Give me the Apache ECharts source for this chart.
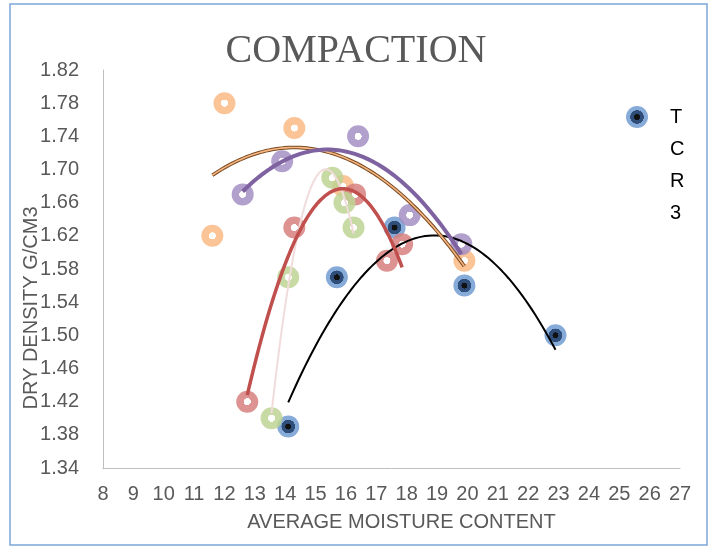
<!DOCTYPE html>
<html><head><meta charset="utf-8">
<script src="https://cdn.jsdelivr.net/npm/echarts@6/dist/echarts.min.js"></script>
<style>html,body{margin:0;padding:0;background:#fff}#c{width:712px;height:546px}</style>
</head><body><div id="c"></div><script>
// ---- data ----
const xTicks = [8,9,10,11,12,13,14,15,16,17,18,19,20,21,22,23,24,25,26,27];
const yTicks = [1.34,1.38,1.42,1.46,1.50,1.54,1.58,1.62,1.66,1.70,1.74,1.78,1.82];
const tcr3X = [14.1,15.7,17.6,19.9,22.9];
const tcr3Y = [1.39,1.57,1.63,1.56,1.50];
const orangeX = [12.0,14.3,11.6,15.9,19.9];
const orangeY = [1.78,1.75,1.62,1.68,1.59];
const purpleX = [12.6,13.9,16.4,18.1,19.8];
const purpleY = [1.67,1.71,1.74,1.645,1.61];
const redX = [12.75,14.3,16.3,17.85,17.35];
const redY = [1.42,1.63,1.67,1.61,1.59];
const greenX = [13.55,14.1,15.55,15.95,16.25];
const greenY = [1.40,1.57,1.69,1.66,1.63];

const FONT = "'Liberation Sans', Arial, sans-serif";

function pairs(xs, ys){ return xs.map((x,i)=>[x, ys[i]]); }
// 2nd-order polynomial least-squares trendline, sampled across the data x-range
function polyTrend(xs, ys){
  let S=[0,0,0,0,0], T=[0,0,0];
  xs.forEach((x,i)=>{ for(let k=0;k<5;k++) S[k]+=Math.pow(x,k); for(let k=0;k<3;k++) T[k]+=ys[i]*Math.pow(x,k); });
  const A=[[S[0],S[1],S[2],T[0]],[S[1],S[2],S[3],T[1]],[S[2],S[3],S[4],T[2]]];
  for(let i=0;i<3;i++){ for(let j=i+1;j<3;j++){ const f=A[j][i]/A[i][i]; for(let k=i;k<4;k++) A[j][k]-=f*A[i][k]; } }
  const c=[0,0,0];
  for(let i=2;i>=0;i--){ let s=A[i][3]; for(let k=i+1;k<3;k++) s-=A[i][k]*c[k]; c[i]=s/A[i][i]; }
  const lo=Math.min(...xs), hi=Math.max(...xs), out=[];
  const n=80;
  for(let i=0;i<=n;i++){ const x=lo+(hi-lo)*i/n; out.push([x, c[0]+c[1]*x+c[2]*x*x]); }
  return out;
}
function ring(color){
  return {type:'radial',x:0.5,y:0.5,r:0.5,colorStops:[
    {offset:0,color:'#ffffff'},{offset:0.31,color:'#ffffff'},
    {offset:0.33,color:color},{offset:1,color:color}]};
}
const blueMarker = {type:'radial',x:0.5,y:0.5,r:0.5,colorStops:[
  {offset:0,color:'#111111'},{offset:0.26,color:'#111111'},
  {offset:0.28,color:'#2F4F7A'},{offset:0.6,color:'#2F4F7A'},
  {offset:0.63,color:'rgba(125,164,214,0.92)'},{offset:1,color:'rgba(125,164,214,0.92)'}]};

function scatter(name, xs, ys, color){
  return {name, type:'scatter', z:2, symbol:'circle', symbolSize:22, data:pairs(xs,ys),
    itemStyle:{color, opacity:1}, emphasis:{disabled:true}};
}
function trend(xs, ys, color, width, z){
  return {type:'line', z:z||3, data:polyTrend(xs,ys), showSymbol:false, symbol:'none', silent:true,
    lineStyle:{color, width}, emphasis:{disabled:true}};
}

const chart = echarts.init(document.getElementById('c'), null, {renderer:'canvas'});
chart.setOption({
  animation:false,
  backgroundColor:'#ffffff',
  title:{text:'COMPACTION', left:'center', top:26,
    textStyle:{fontFamily:"'Liberation Serif', 'DejaVu Serif', serif", fontSize:40, fontWeight:'normal', color:'#595959'}},
  legend:{data:['TCR3'], left:621, top:0, itemWidth:56, itemHeight:22, selectedMode:false,
    formatter:n=>'\n\n\n'+n.split('').join('\n'),
    textStyle:{fontFamily:FONT, fontSize:20, color:'#000000', lineHeight:32}},
  grid:{left:103, right:32, top:70, bottom:78},
  xAxis:{type:'value', min:8, max:27, interval:1,
    name:'AVERAGE MOISTURE CONTENT', nameLocation:'middle', nameGap:44,
    nameTextStyle:{fontFamily:FONT, fontSize:20, color:'#595959', padding:[0,0,0,20]},
    axisLine:{show:true, lineStyle:{color:'#BFBFBF', width:1}},
    axisTick:{show:false}, splitLine:{show:false},
    axisLabel:{customValues:xTicks, fontFamily:FONT, fontSize:20, color:'#595959', margin:16}},
  yAxis:{type:'value', min:1.34, max:1.82,
    name:'DRY DENSITY G/CM3', nameLocation:'middle', nameGap:62, nameMoveOverlap:false,
    nameTextStyle:{fontFamily:FONT, fontSize:20, color:'#595959', padding:[0,78,0,0]},
    axisLine:{show:true, lineStyle:{color:'#BFBFBF', width:1}},
    axisTick:{show:false}, splitLine:{show:false},
    axisLabel:{customValues:yTicks, formatter:v=>Number(v).toFixed(2), fontFamily:FONT, fontSize:20, color:'#595959', margin:24}},
  graphic:[{type:'rect', silent:true, z:100, shape:{x:10,y:4,width:697,height:541},
    style:{fill:'none', stroke:'#7EA6D8', lineWidth:1.5}}],
  series:[
    scatter('TCR3', tcr3X, tcr3Y, blueMarker),
    scatter('Series 2', orangeX, orangeY, ring('rgba(250,190,140,0.9)')),
    scatter('Series 3', purpleX, purpleY, ring('rgba(164,143,196,0.85)')),
    scatter('Series 4', redX, redY, ring('rgba(214,128,126,0.85)')),
    scatter('Series 5', greenX, greenY, ring('rgba(190,212,148,0.85)')),
    trend(tcr3X, tcr3Y, '#000000', 2),
    trend(orangeX, orangeY, '#7A4A22', 3.6, 3),
    trend(orangeX, orangeY, '#F6B682', 1.6, 4),
    trend(purpleX, purpleY, '#7F63A1', 4, 5),
    trend(greenX, greenY, '#F0DCDB', 2, 5),
    trend(redX, redY, '#C0504D', 3.5, 6)
  ]
});
</script></body></html>
